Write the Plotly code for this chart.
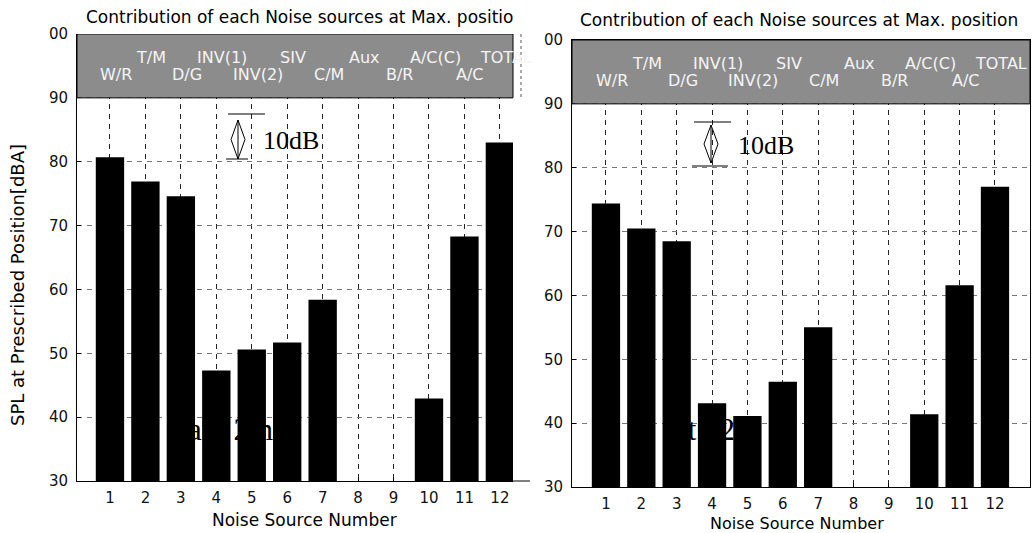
import plotly.graph_objects as go

W, H = 1036, 533

# ---------------- data ----------------
source_numbers = [1, 2, 3, 4, 5, 6, 7, 8, 9, 10, 11, 12]
band_labels = ["W/R", "T/M", "D/G", "INV(1)", "INV(2)", "SIV",
               "C/M", "Aux", "B/R", "A/C(C)", "A/C", "TOTAL"]
spl_left = [80.7, 76.9, 74.6, 47.3, 50.6, 51.7, 58.4, None, None, 42.9, 68.3, 83.0]
spl_right = [74.4, 70.5, 68.5, 43.1, 41.1, 46.5, 55.0, None, None, 41.4, 61.6, 77.0]
y_tickvals = [30, 40, 50, 60, 70, 80, 90, 100]
y_ticktext = ["30", "40", "50", "60", "70", "80", "90", "00"]
title_left = "Contribution of each Noise sources at Max. positio"
title_right = "Contribution of each Noise sources at Max. position"
x_title = "Noise Source Number"
y_title = "SPL at Prescribed Position[dBA]"
scale_text = "10dB"
ghost_text = "at\u00a0\u00a0\u00a02m"

# ---------------- geometry (pixels) ----------------
PANELS = {
    "L": dict(x0=77, x1=513, ytop=34, ybot=481, xr=(0.07, 12.37), xa="x", ya="y", ov=("x3", "y3")),
    "R": dict(x0=572, x1=1030, ytop=40, ybot=487, xr=(0.04, 12.99), xa="x2", ya="y2", ov=("x4", "y4")),
}
YR = (30, 100)


def to_data(p, px, py):
    x = p["xr"][0] + (px - p["x0"]) / (p["x1"] - p["x0"]) * (p["xr"][1] - p["xr"][0])
    y = YR[0] + (p["ybot"] - py) / (p["ybot"] - p["ytop"]) * (YR[1] - YR[0])
    return x, y


SANS = "DejaVu Sans"
SERIF = "Liberation Serif"

fig = go.Figure()

# ghost text (drawn beneath the bars, on base axes)
for key, gx, gy in [("L", 188, 432), ("R", 674, 432)]:
    p = PANELS[key]
    x, y = to_data(p, gx, gy)
    fig.add_trace(go.Scatter(x=[x], y=[y], mode="text", text=[ghost_text],
                             textposition="middle right",
                             textfont=dict(family=SERIF, size=31, color="black"),
                             xaxis=p["xa"], yaxis=p["ya"], showlegend=False, hoverinfo="skip"))

# bars on overlay axes
for key, vals in [("L", spl_left), ("R", spl_right)]:
    p = PANELS[key]
    fig.add_trace(go.Bar(x=source_numbers, y=vals, width=0.8,
                         marker=dict(color="black", line=dict(width=0)),
                         xaxis=p["ov"][0], yaxis=p["ov"][1], showlegend=False))

layout = dict(width=W, height=H, margin=dict(l=0, r=0, t=0, b=0, pad=0), autosize=False,
              paper_bgcolor="white", plot_bgcolor="white", showlegend=False, bargap=0.2)

dash = "5px,5px"
for key, p in PANELS.items():
    dom_x = [p["x0"] / W, p["x1"] / W]
    dom_y = [1 - p["ybot"] / H, 1 - p["ytop"] / H]
    xname = "xaxis" if p["xa"] == "x" else "xaxis" + p["xa"][1:]
    yname = "yaxis" if p["ya"] == "y" else "yaxis" + p["ya"][1:]
    mirror = key == "R"
    layout[xname] = dict(domain=dom_x, range=list(p["xr"]), anchor=p["ya"],
                         tickvals=source_numbers, ticks="inside", ticklen=4, tickcolor="black",
                         showgrid=True, gridcolor="#222", griddash=dash, gridwidth=1,
                         showline=True, linecolor="black", linewidth=1, mirror=mirror,
                         zeroline=False, ticklabelstandoff=3, automargin=False,
                         tickfont=dict(family=SANS, size=15, color="#111"))
    layout[yname] = dict(domain=dom_y, range=list(YR), anchor=p["xa"],
                         tickvals=y_tickvals, ticktext=y_ticktext, ticks="inside", ticklen=4,
                         tickcolor="black",
                         showgrid=True, gridcolor="#777", griddash=dash, gridwidth=1,
                         showline=True, linecolor="black", linewidth=1, mirror=mirror,
                         zeroline=False, ticklabelstandoff=5, automargin=False,
                         tickfont=dict(family=SANS, size=15, color="#111"))
    ox, oy = p["ov"]
    layout["xaxis" + ox[1:]] = dict(domain=dom_x, range=list(p["xr"]), overlaying=p["xa"],
                                    anchor=oy, visible=False)
    layout["yaxis" + oy[1:]] = dict(domain=dom_y, range=list(YR), overlaying=p["ya"],
                                    anchor=ox, visible=False)

fig.update_layout(**layout)

shapes = []
annotations = []

for key, p in PANELS.items():
    xa, ya = p["xa"], p["ya"]
    # grey band 90-100
    shapes.append(dict(type="rect", xref=xa + " domain", yref=ya, x0=0, x1=1, y0=90, y1=100,
                       fillcolor="#8c8c8c", line=dict(color="black", width=1), layer="above"))
    # band labels: odd sources lower row, even sources upper row
    for n, lab in zip(source_numbers, band_labels):
        yv = 96.3 if n % 2 == 0 else 93.6
        annotations.append(dict(x=n + 0.17, y=yv, xref=xa, yref=ya, text=lab, showarrow=False,
                                font=dict(family=SANS, size=16, color="#f4f4f4"),
                                xanchor="center", yanchor="middle"))

# 10 dB scale marks
scale_geo = {
    "L": dict(top=(228, 265, 114), bot=(226, 248, 159), ax=238, at=120, ab=159, text=(291, 140)),
    "R": dict(top=(694, 731, 122), bot=(692, 728, 166), ax=711, at=125, ab=163, text=(766, 145)),
}
for key, g in scale_geo.items():
    p = PANELS[key]
    xa, ya = p["xa"], p["ya"]
    for (a, b, yy) in (g["top"], g["bot"]):
        x0, y0 = to_data(p, a, yy)
        x1, _ = to_data(p, b, yy)
        shapes.append(dict(type="line", xref=xa, yref=ya, x0=x0, x1=x1, y0=y0, y1=y0,
                           line=dict(color="black", width=1), layer="above"))
    tx, ty = to_data(p, g["ax"], g["at"])
    bx, by = to_data(p, g["ax"], g["ab"])
    mid = (g["at"] + g["ab"]) / 2
    lx_, my = to_data(p, g["ax"] - 7, mid)
    rx_, _ = to_data(p, g["ax"] + 7, mid)
    path = (f"M {tx},{ty} L {lx_},{my} L {bx},{by} L {rx_},{my} Z "
            f"M {tx},{ty} L {bx},{by}")
    shapes.append(dict(type="path", xref=xa, yref=ya, path=path,
                       line=dict(color="black", width=1), layer="above"))
    sx, sy = to_data(p, *g["text"])
    annotations.append(dict(x=sx, y=sy, xref=xa, yref=ya, text=scale_text, showarrow=False,
                            font=dict(family=SERIF, size=26, color="black"),
                            xanchor="center", yanchor="middle"))

# extra fragments at the left panel's clipped right side
shapes.append(dict(type="line", xref="paper", yref="paper", x0=513 / W, x1=530 / W,
                   y0=1 - 481 / H, y1=1 - 481 / H, line=dict(color="black", width=1)))
shapes.append(dict(type="line", xref="paper", yref="paper", x0=521 / W, x1=521 / W,
                   y0=1 - 34 / H, y1=1 - 98 / H, line=dict(color="#555", width=1, dash="dot")))

# titles
annotations.append(dict(x=84 / W, y=1 - 17 / H, xref="paper", yref="paper", text=title_left,
                        showarrow=False, xanchor="left", yanchor="middle",
                        font=dict(family=SANS, size=17, color="black")))
annotations.append(dict(x=578 / W, y=1 - 20 / H, xref="paper", yref="paper", text=title_right,
                        showarrow=False, xanchor="left", yanchor="middle",
                        font=dict(family=SANS, size=17, color="black")))
annotations.append(dict(x=304 / W, y=1 - 520 / H, xref="paper", yref="paper", text=x_title,
                        showarrow=False, xanchor="center", yanchor="middle",
                        font=dict(family=SANS, size=17, color="black")))
annotations.append(dict(x=797 / W, y=1 - 523.5 / H, xref="paper", yref="paper", text=x_title,
                        showarrow=False, xanchor="center", yanchor="middle",
                        font=dict(family=SANS, size=16, color="black")))
annotations.append(dict(x=17 / W, y=1 - 285 / H, xref="paper", yref="paper", text=y_title,
                        showarrow=False, xanchor="center", yanchor="middle", textangle=-90,
                        font=dict(family=SANS, size=18, color="black")))

fig.update_layout(shapes=shapes, annotations=annotations)
fig.write_html("out.html", config={"displayModeBar": False},
               post_script="document.body.style.margin='0';document.body.style.overflow='hidden';")
